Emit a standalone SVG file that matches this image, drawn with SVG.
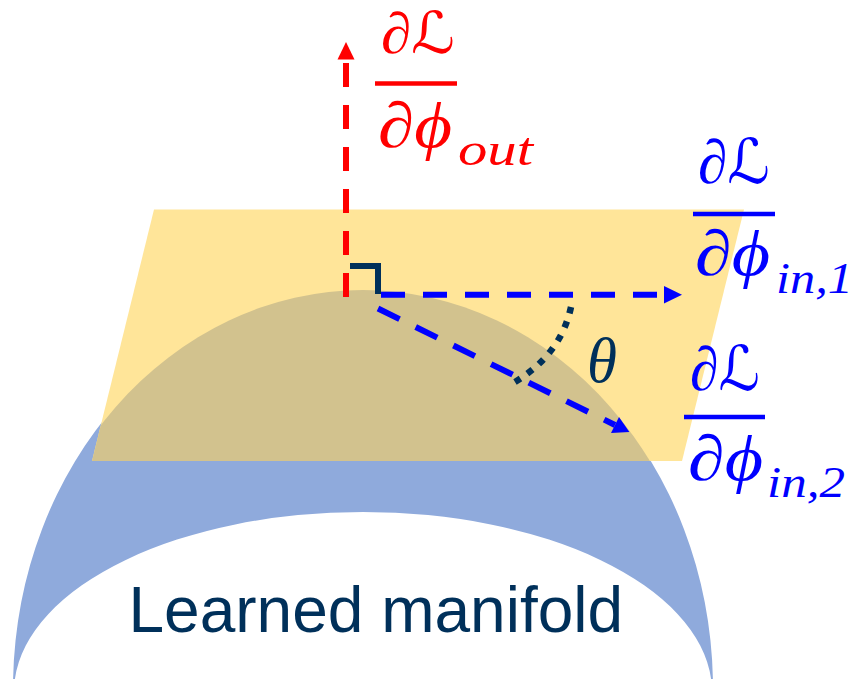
<svg xmlns="http://www.w3.org/2000/svg" width="856" height="679" viewBox="0 0 856 679">
  <defs>
    <clipPath id="planeClip">
      <path d="M154,209.5 L744,209.5 L682,461 L92,461 Z"/>
    </clipPath>
    <style>
      .math { font-family: "Liberation Serif", "DejaVu Serif", "DejaVu Sans", serif; font-style: italic; }
      .red { fill: #FF0000; }
      .blue { fill: #0000FF; }
      .navy { fill: #00305A; }
      .dash { fill: none; stroke-width: 6; stroke-dasharray: 24 18; stroke-linecap: butt; }
      .bar { stroke-width: 4.5; }
    </style>
  </defs>
  <rect width="856" height="679" fill="#FFFFFF"/>

  <g id="manifold">
    <path d="M13.1,679 A350,400 0 0 1 712.9,679 L711.1,679 A349,180 0 0 0 14.9,679 Z" fill="#8FAADC"/>
  </g>

  <g id="tangent-plane">
    <path d="M154,209.5 L744,209.5 L682,461 L92,461 Z" fill="#FFE599"/>
    <ellipse cx="363" cy="690" rx="350" ry="400" fill="#D2C28E" clip-path="url(#planeClip)"/>
  </g>

  <g id="connectors">
    <path id="grad-out" class="dash" d="M346,297 V59" stroke="#FF0000"/>
    <polygon points="346,42 337.5,59.5 354.5,59.5" fill="#FF0000"/>
    <path id="grad-in1" class="dash" d="M381,294.7 H664" stroke="#0000FF"/>
    <polygon points="664,286 682,294.7 664,303.4" fill="#0000FF"/>
    <path id="grad-in2" class="dash" d="M378,308.5 L615,425" stroke="#0000FF"/>
    <polygon points="629.4,432.1 611,433.1 619,416.9" fill="#0000FF"/>
    <path id="right-angle" d="M350,266 H378 V294" fill="none" stroke="#00305A" stroke-width="6" stroke-linejoin="miter"/>
    <path id="angle-arc" d="M571,307 Q561,354 515,382" fill="none" stroke="#00305A" stroke-width="6.5" stroke-dasharray="6.5 8.5"/>
  </g>

  <g id="label-out">
    <text class="math red" x="381" y="53" font-size="58" textLength="74" lengthAdjust="spacingAndGlyphs">∂ℒ</text>
    <line class="bar" x1="375" y1="83.5" x2="457" y2="83.5" stroke="#FF0000"/>
    <text class="math red" x="378" y="147" font-size="64" textLength="74" lengthAdjust="spacingAndGlyphs">∂ϕ</text>
    <text class="math red" x="458" y="165" font-size="46" textLength="75" lengthAdjust="spacingAndGlyphs">out</text>
  </g>

  <g id="label-in1">
    <text class="math blue" x="698" y="183" font-size="62" textLength="72" lengthAdjust="spacingAndGlyphs">∂ℒ</text>
    <line class="bar" x1="693" y1="214" x2="775" y2="214" stroke="#0000FF"/>
    <text class="math blue" x="695" y="275" font-size="64" textLength="75" lengthAdjust="spacingAndGlyphs">∂ϕ</text>
    <text class="math blue" x="776" y="293" font-size="44" textLength="77" lengthAdjust="spacingAndGlyphs">in,1</text>
  </g>

  <g id="label-in2">
    <text class="math blue" x="690" y="390" font-size="62" textLength="70" lengthAdjust="spacingAndGlyphs">∂ℒ</text>
    <line class="bar" x1="684" y1="417" x2="765" y2="417" stroke="#0000FF"/>
    <text class="math blue" x="688" y="480" font-size="64" textLength="75" lengthAdjust="spacingAndGlyphs">∂ϕ</text>
    <text class="math blue" x="767" y="497" font-size="44" textLength="78" lengthAdjust="spacingAndGlyphs">in,2</text>
  </g>

  <g id="label-theta">
    <text class="math navy" x="587" y="382" font-size="64" textLength="30" lengthAdjust="spacingAndGlyphs">θ</text>
  </g>

  <g id="label-manifold">
    <text class="navy" x="128.5" y="632" font-family="'Liberation Sans', Arial, sans-serif" font-size="64">Learned manifold</text>
  </g>
</svg>
